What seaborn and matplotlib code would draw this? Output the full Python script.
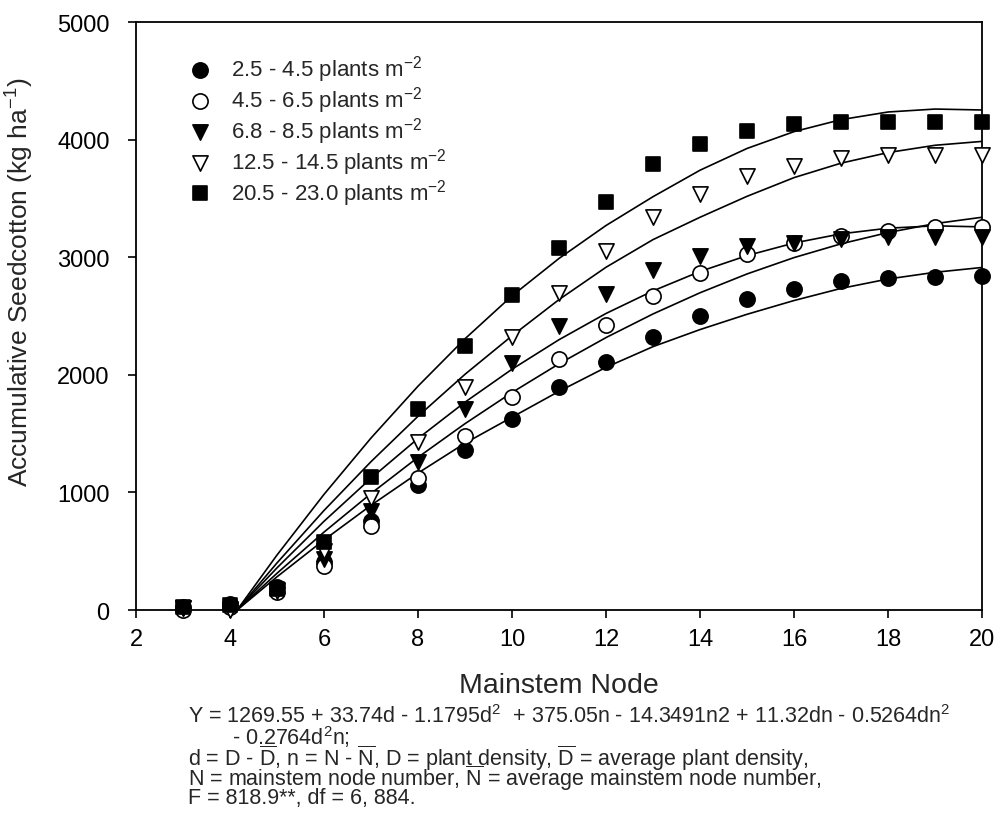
import matplotlib
matplotlib.use("Agg")
import matplotlib.pyplot as plt
import seaborn as sns
import pandas as pd

# -------------------------------
# Data
# -------------------------------
nodes = [3, 4, 5, 6, 7, 8, 9, 10, 11, 12, 13, 14, 15, 16, 17, 18, 19, 20]

density_labels = [
    "2.5 - 4.5 plants m$^{-2}$",
    "4.5 - 6.5 plants m$^{-2}$",
    "6.8 - 8.5 plants m$^{-2}$",
    "12.5 - 14.5 plants m$^{-2}$",
    "20.5 - 23.0 plants m$^{-2}$",
]

yield_d1 = [25, 50, 200, 410, 760, 1060, 1365, 1625, 1893, 2110, 2318, 2502,
            2643, 2728, 2800, 2822, 2833, 2842]
yield_d2 = [0, 30, 150, 377, 717, 1119, 1476, 1808, 2133, 2425, 2672, 2870,
            3026, 3120, 3182, 3224, 3253, 3258]
yield_d3 = [20, 10, 170, 433, 844, 1262, 1708, 2100, 2417, 2686, 2895, 3011,
            3097, 3125, 3153, 3168, 3168, 3176]
yield_d4 = [15, 0, 160, 504, 950, 1425, 1893, 2318, 2700, 3054, 3338, 3536,
            3692, 3777, 3848, 3868, 3868, 3868]
yield_d5 = [30, 40, 180, 581, 1130, 1708, 2245, 2677, 3082, 3471, 3791, 3961,
            4074, 4131, 4151, 4151, 4151, 4151]

# fitted response curves
curve_nodes = [4.15, 5, 6, 7, 8, 9, 10, 11, 12, 13, 14, 15, 16, 17, 18, 19, 20]
curve_d1 = [0, 283, 596, 891, 1165, 1419, 1640, 1860, 2064, 2240, 2385, 2515,
            2632, 2735, 2815, 2872, 2913]
curve_d2 = [0, 313, 663, 991, 1299, 1585, 1850, 2094, 2317, 2518, 2698, 2858,
            2997, 3114, 3210, 3286, 3340]
curve_d3 = [0, 359, 755, 1121, 1459, 1768, 2048, 2299, 2522, 2714, 2879, 3014,
            3121, 3199, 3247, 3267, 3258]
curve_d4 = [0, 401, 847, 1262, 1648, 2005, 2332, 2640, 2915, 3150, 3340, 3518,
            3677, 3800, 3890, 3952, 3985]
curve_d5 = [0, 468, 984, 1463, 1904, 2307, 2672, 2990, 3270, 3515, 3740, 3925,
            4068, 4170, 4235, 4260, 4252]

x_ticks = [2, 4, 6, 8, 10, 12, 14, 16, 18, 20]
y_ticks = [0, 1000, 2000, 3000, 4000, 5000]

# -------------------------------
# Theme
# -------------------------------
sns.set_style("ticks")
plt.rcParams["font.family"] = ["Liberation Sans", "DejaVu Sans"]
plt.rcParams["mathtext.fontset"] = "custom"
plt.rcParams["mathtext.rm"] = "Liberation Sans"
plt.rcParams["mathtext.it"] = "Liberation Sans:italic"
plt.rcParams["mathtext.bf"] = "Liberation Sans:bold"

fig = plt.figure(figsize=(9.95, 8.28), dpi=100)
ax = fig.add_axes([0.1367, 0.262, 0.8503, 0.7102])

# curves
for yc in [curve_d1, curve_d2, curve_d3, curve_d4, curve_d5]:
    cdf = pd.DataFrame({"node": curve_nodes, "y": yc})
    sns.lineplot(data=cdf, x="node", y="y", color="black", linewidth=1.2,
                 ax=ax, legend=False)

# points
series = [yield_d1, yield_d2, yield_d3, yield_d4, yield_d5]
markers = ["o", "o", "v", "v", "s"]
faces = ["black", "white", "black", "white", "black"]
sizes = [120, 120, 120, 120, 100]
for vals, lab, mk, fc, sz in zip(series, density_labels, markers, faces, sizes):
    pdf = pd.DataFrame({"node": nodes, "y": vals})
    sns.scatterplot(data=pdf, x="node", y="y", marker=mk, s=sz,
                    facecolor=fc, edgecolor="black", linewidth=1.2,
                    label=lab, ax=ax, zorder=3, clip_on=False)

ax.set_xlim(2, 20)
ax.set_ylim(0, 5000)
ax.set_xticks(x_ticks)
ax.set_yticks(y_ticks)
ax.tick_params(axis="both", direction="out", length=6, width=1.2,
               labelsize=17, colors="black", top=False, right=False)
ax.tick_params(axis="y", pad=13)
ax.tick_params(axis="x", pad=7)
for sp in ax.spines.values():
    sp.set_visible(True)
    sp.set_color("black")
    sp.set_linewidth(1.3)

ax.set_xlabel("Mainstem Node", fontsize=20.5)
ax.set_ylabel("Accumulative Seedcotton (kg ha$^{-1}$)", fontsize=19)
ax.xaxis.set_label_coords(0.5, -0.105)
ax.yaxis.set_label_coords(-0.118, 0.56)

leg = ax.legend(loc="upper left", bbox_to_anchor=(0.052, 0.962), frameon=False,
                fontsize=16, labelspacing=0.0, handletextpad=0.9,
                borderaxespad=0, handlelength=1.0)

# regression note under the plot
note_font = ["Liberation Sans", "DejaVu Sans"]
eq_lines = [
    (0.189, "Y = 1269.55 + 33.74d - 1.1795d$^2$  + 375.05n - 14.3491n2 + 11.32dn - 0.5264dn$^2$"),
    (0.233, "- 0.2764d$^2$n;"),
    (0.189, r"d = D - $\overline{\mathrm{D}}$, n = N - $\overline{\mathrm{N}}$, D = plant density, $\overline{\mathrm{D}}$ = average plant density,"),
    (0.189, r"N = mainstem node number, $\overline{\mathrm{N}}$ = average mainstem node number,"),
    (0.189, "F = 818.9**, df = 6, 884."),
]
eq_y = [717, 737, 758, 778, 799]
for (xf, txt), yp in zip(eq_lines, eq_y):
    fig.text(xf, 1 - yp / 828, txt, fontsize=15.5, family=note_font,
             ha="left", va="center")

plt.savefig("out.png", dpi=100)
